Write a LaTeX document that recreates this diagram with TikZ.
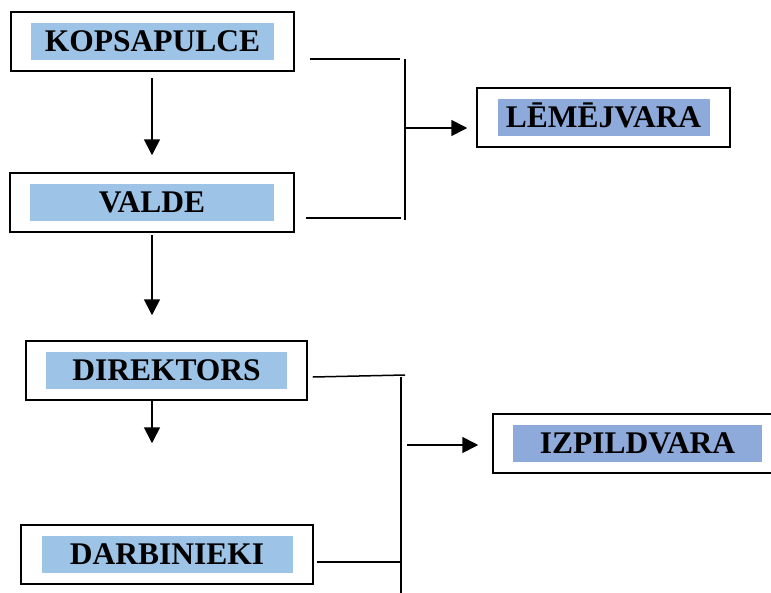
\documentclass[tikz,border=0pt]{standalone}
\usepackage{fontspec}
\setmainfont{Liberation Serif}
\usetikzlibrary{arrows.meta}

\definecolor{lightfill}{RGB}{157,195,230}
\definecolor{darkfill}{RGB}{142,170,219}

\tikzset{
  frame/.style={draw, line width=1.5pt, minimum height=59pt, inner sep=0pt},
  tag/.style={minimum height=37pt, inner sep=0pt, text height=20.5pt, text depth=0pt,
    font=\fontsize{31.5}{36}\selectfont\bfseries},
  arr/.style={-{Triangle[length=16pt,width=16pt]}, line width=1.6pt},
  bar/.style={line width=1.5pt}
}

\begin{document}
\begin{tikzpicture}[x=1pt,y=-1pt]
    \useasboundingbox (0,0) rectangle (771,592);
    \clip (0,0) rectangle (771,592);

    % Draw the boxes
    \node[frame, minimum width=283pt] (kop) at (152.5,41.5) {};
    \node[tag, fill=lightfill, minimum width=243pt] (kopT) at (kop) {KOPSAPULCE};

    \node[frame, minimum width=284pt] (valde) at (152,202.5) {};
    \node[tag, fill=lightfill, minimum width=244pt] (valdeT) at (valde) {VALDE};

    \node[frame, minimum width=253pt] (lem) at (603.5,117.5) {};
    \node[tag, fill=darkfill, minimum width=212pt] (lemT) at (lem) {LĒMĒJVARA};

    \node[frame, minimum width=281pt] (dir) at (166.5,370.5) {};
    \node[tag, fill=lightfill, minimum width=241pt] (dirT) at (dir) {DIREKTORS};

    \node[frame, minimum width=292pt] (darb) at (167,554.5) {};
    \node[tag, fill=lightfill, minimum width=251pt] (darbT) at (darb) {DARBINIEKI};

    \node[frame, minimum width=289pt] (izp) at (637.5,443.5) {};
    \node[tag, fill=darkfill, minimum width=249pt] (izpT) at (izp) {IZPILDVARA};

    % Draw the vertical arrows
    \draw[arr, shorten <=6pt, shorten >=17pt] (kop.south -| valde.south) -- (valde.north);
    \draw[arr, shorten <=2pt, shorten >=25pt] (valde.south) -- (dir.north -| valde.south);
    \draw[arr, shorten >=81pt] (dir.south -| valde.south) -- (darb.north -| valde.south);

    % Bracket to LĒMĒJVARA
    \coordinate (spineA) at (405,59);
    \coordinate (spineB) at (405,220);
    \coordinate (forkA) at (406,128);
    \draw[bar] (spineA) -- (spineB);
    \draw[bar] ([shift={(15,17.5)}]kop.east) -- ([xshift=-5pt]spineA);
    \draw[bar] ([shift={(11,15.5)}]valde.east) -- +(95,0);
    \draw[arr, shorten >=9pt] (forkA) -- (forkA -| lem.west);

    % Bracket to IZPILDVARA
    \coordinate (spineC) at (401,377);
    \coordinate (spineD) at (401,600);
    \coordinate (dirEnd) at (405,375);
    \coordinate (forkB) at (407,445);
    \draw[bar] (spineC) -- (spineD);
    \draw[bar] ([shift={(5,6.5)}]dir.east) -- (dirEnd);
    \draw[bar] ([shift={(3,7.5)}]darb.east) -- +(85,0);
    \draw[arr, shorten >=14pt] (forkB) -- (forkB -| izp.west);

\end{tikzpicture}
\end{document}
